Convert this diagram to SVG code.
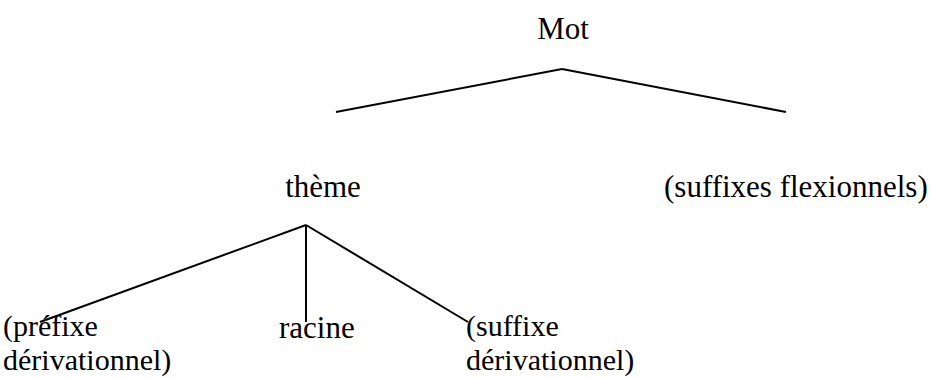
<svg xmlns="http://www.w3.org/2000/svg" width="931" height="378" viewBox="0 0 931 378">
<style>
.lbl { font-family: 'Liberation Serif', 'Times New Roman', serif; font-size: 31px; fill: #000; }
.lbl2 { font-family: 'Liberation Serif', 'Times New Roman', serif; font-size: 30px; fill: #000; }
.edge { stroke: #000; stroke-width: 2; fill: none; }
</style>
<rect width="931" height="378" fill="#fff"/>
<g id="connectors">
<line class="edge" x1="562" y1="69" x2="336" y2="112"/>
<line class="edge" x1="562" y1="69" x2="786" y2="112"/>
<line class="edge" x1="306" y1="225" x2="40" y2="322"/>
<line class="edge" x1="306" y1="225" x2="306" y2="322"/>
<line class="edge" x1="306" y1="225" x2="468" y2="322"/>
</g>
<g id="mot"><text class="lbl" x="563" y="39" text-anchor="middle">Mot</text></g>
<g id="theme"><text class="lbl" x="323" y="197" text-anchor="middle">thème</text></g>
<g id="suffixes-flexionnels"><text class="lbl" x="664" y="197">(suffixes flexionnels)</text></g>
<g id="prefixe"><text class="lbl2" x="3" y="336">(préfixe</text><text class="lbl2" x="3" y="370">dérivationnel)</text></g>
<g id="racine"><text class="lbl" x="279" y="338">racine</text></g>
<g id="suffixe"><text class="lbl2" x="466" y="336">(suffixe</text><text class="lbl2" x="466" y="370">dérivationnel)</text></g>
</svg>
